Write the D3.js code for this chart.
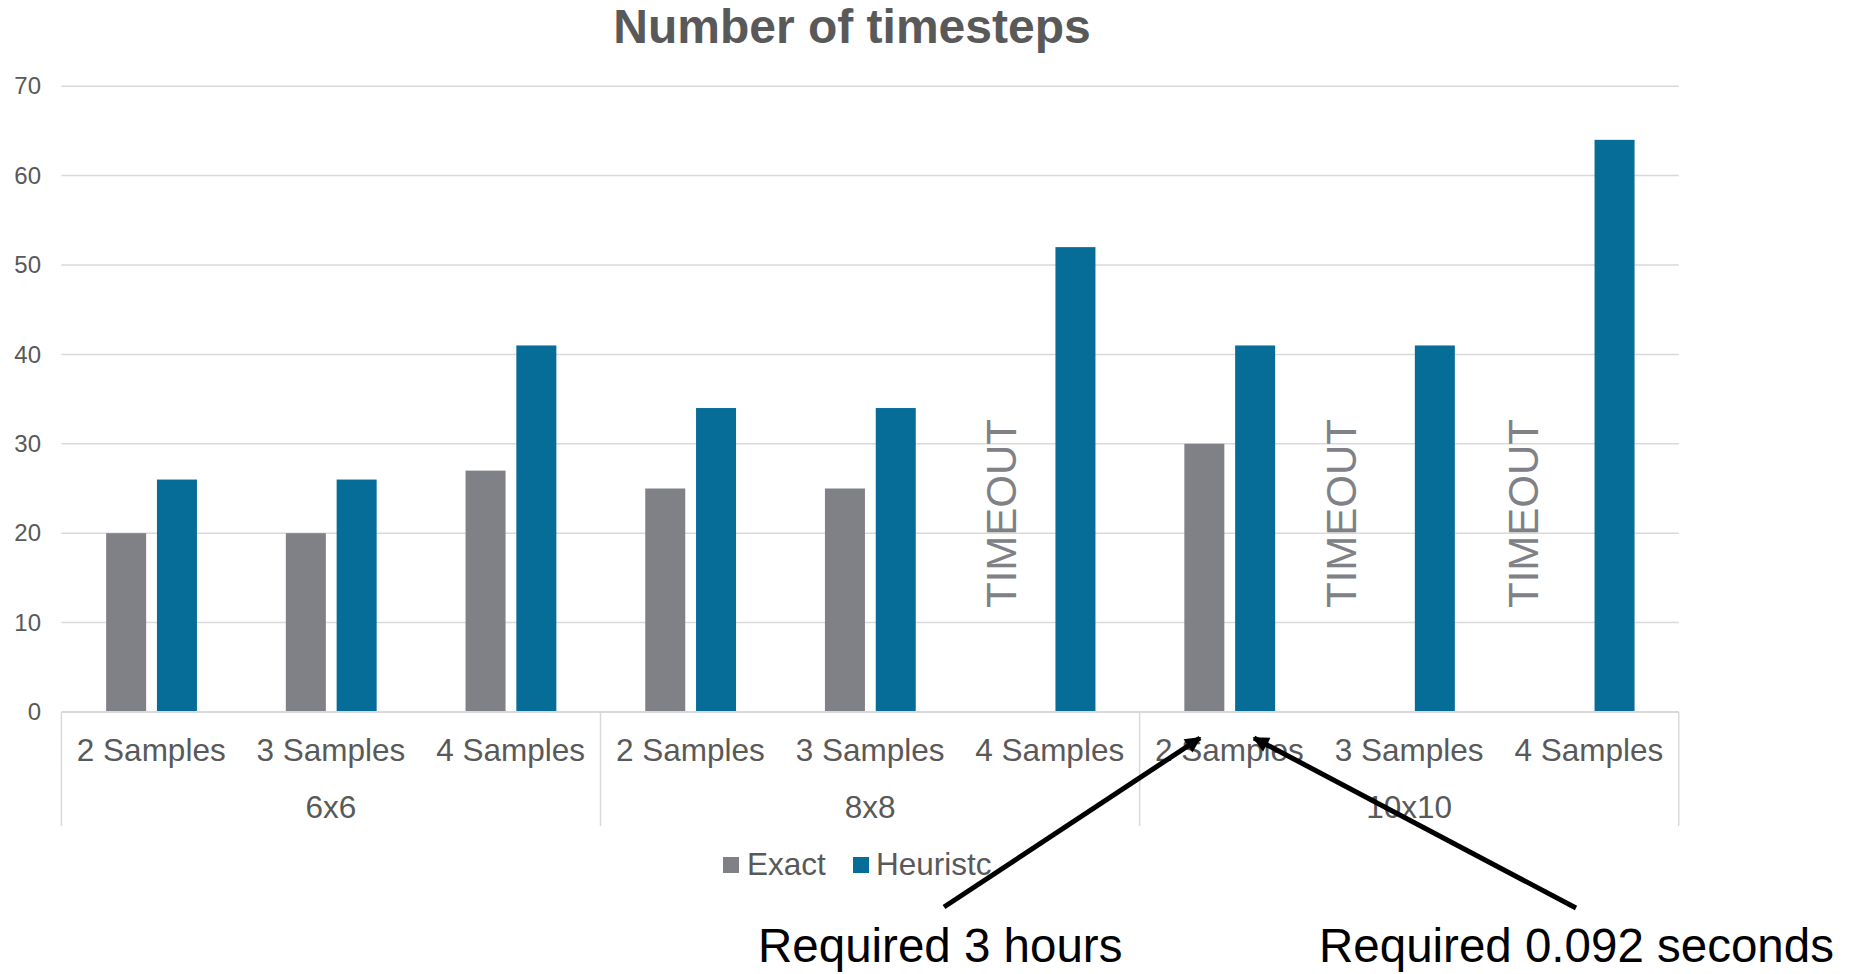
<!DOCTYPE html>
<html>
<head>
<meta charset="utf-8">
<script src="https://cdn.jsdelivr.net/npm/d3@7"></script>
<style>
  html, body { margin: 0; padding: 0; background: #fff; }
  svg { display: block; font-family: "Liberation Sans", Arial, sans-serif; }
</style>
</head>
<body>
<svg id="chart" width="1851" height="974"></svg>
<script>
// ---- data ----
const groups = ["6x6", "8x8", "10x10"];
const samples = ["2 Samples", "3 Samples", "4 Samples"];
const seriesNames = ["Exact", "Heuristc"];
const exactValues = [20, 20, 27, 25, 25, null, 30, null, null];
const heuristicValues = [26, 26, 41, 34, 34, 52, 41, 41, 64];
const yTicks = [0, 10, 20, 30, 40, 50, 60, 70];
const timeoutCategories = [5, 7, 8];
const timeoutText = "TIMEOUT";
const titleText = "Number of timesteps";
const annotationTexts = ["Required 3 hours", "Required 0.092 seconds"];

// ---- layout ----
const W = 1851, H = 974;
const plot = { left: 61.4, right: 1678.7, top: 86.2, bottom: 712 };
const colors = { Exact: "#808186", Heuristc: "#066c98" };
const textColor = "#595959";
const gridColor = "#d9d9d9";

const svg = d3.select("#chart");

const categories = [];
groups.forEach(g => samples.forEach(s => categories.push({ group: g, sample: s, key: g + "|" + s })));

const x = d3.scaleBand().domain(categories.map(d => d.key)).range([plot.left, plot.right]).padding(0);
const bw = x.bandwidth();
const inner = d3.scaleBand().domain(seriesNames)
  .range([bw * 0.249, bw * 0.249 + 90.8]).paddingInner(0.2126).paddingOuter(0);
const y = d3.scaleLinear().domain([0, 70]).range([plot.bottom, plot.top]);

// gridlines
svg.append("g").selectAll("line").data(yTicks.filter(t => t > 0)).join("line")
  .attr("x1", plot.left).attr("x2", plot.right)
  .attr("y1", d => y(d)).attr("y2", d => y(d))
  .attr("stroke", gridColor).attr("stroke-width", 1.5);

// y axis labels
const yAxis = d3.axisLeft(y).tickValues(yTicks).tickSize(0).tickPadding(0);
const yg = svg.append("g").attr("transform", `translate(41,0)`).call(yAxis);
yg.select(".domain").remove();
yg.selectAll("text").attr("fill", textColor).style("font-size", "24px")
  .style("font-family", "'Liberation Sans', Arial, sans-serif");

// bars
const barData = [];
categories.forEach((c, i) => {
  if (exactValues[i] != null) barData.push({ key: c.key, s: "Exact", v: exactValues[i] });
  if (heuristicValues[i] != null) barData.push({ key: c.key, s: "Heuristc", v: heuristicValues[i] });
});
svg.append("g").selectAll("rect").data(barData).join("rect")
  .attr("x", d => x(d.key) + inner(d.s))
  .attr("width", inner.bandwidth())
  .attr("y", d => y(d.v))
  .attr("height", d => y(0) - y(d.v))
  .attr("fill", d => colors[d.s]);

// x axis baseline
svg.append("line").attr("x1", plot.left).attr("x2", plot.right)
  .attr("y1", y(0)).attr("y2", y(0)).attr("stroke", gridColor).attr("stroke-width", 2);

// group separators
const groupBounds = groups.map((g, gi) => {
  const first = x(g + "|" + samples[0]);
  const last = x(g + "|" + samples[samples.length - 1]) + bw;
  return { g, first, last };
});
const sepXs = [groupBounds[0].first].concat(groupBounds.map(b => b.last));
svg.append("g").selectAll("line").data(sepXs).join("line")
  .attr("x1", d => d).attr("x2", d => d)
  .attr("y1", y(0)).attr("y2", 826)
  .attr("stroke", gridColor).attr("stroke-width", 1.5);

// sample labels
svg.append("g").selectAll("text").data(categories).join("text")
  .attr("x", d => x(d.key) + bw / 2).attr("y", 761)
  .attr("text-anchor", "middle").attr("fill", textColor).style("font-size", "31.5px")
  .text(d => d.sample);

// group labels
svg.append("g").selectAll("text").data(groupBounds).join("text")
  .attr("x", d => (d.first + d.last) / 2).attr("y", 818)
  .attr("text-anchor", "middle").attr("fill", textColor).style("font-size", "31.5px")
  .text(d => d.g);

// TIMEOUT labels
const timeoutOffsets = [56, 37, 38.5];
svg.append("g").selectAll("text").data(timeoutCategories).join("text")
  .attr("transform", (d, i) => `translate(${x(categories[d].key) + timeoutOffsets[i]},${608}) rotate(-90)`)
  .attr("fill", colors.Exact).style("font-size", "42px")
  .text(timeoutText);

// title
svg.append("text").attr("x", 852).attr("y", 43)
  .attr("text-anchor", "middle").attr("fill", textColor)
  .style("font-size", "48px").style("font-weight", "bold")
  .text(titleText);

// legend
const legendItems = [
  { name: seriesNames[0], sx: 723, tx: 747 },
  { name: seriesNames[1], sx: 853, tx: 876 }
];
const lg = svg.append("g");
lg.selectAll("rect").data(legendItems).join("rect")
  .attr("x", d => d.sx).attr("y", 857).attr("width", 16).attr("height", 16)
  .attr("fill", d => colors[d.name]);
lg.selectAll("text").data(legendItems).join("text")
  .attr("x", d => d.tx).attr("y", 875)
  .attr("fill", textColor).style("font-size", "31.5px")
  .text(d => d.name);

// annotation arrows
const defs = svg.append("defs");
defs.append("marker").attr("id", "arrowhead")
  .attr("viewBox", "0 0 10 10").attr("refX", 9).attr("refY", 5)
  .attr("markerWidth", 3.8).attr("markerHeight", 3.2).attr("orient", "auto")
  .attr("markerUnits", "strokeWidth")
  .append("path").attr("d", "M0,0 L10,5 L0,10 Z").attr("fill", "#000");

const arrows = [
  { x1: 944, y1: 907, x2: 1200, y2: 738 },
  { x1: 1576, y1: 908, x2: 1254, y2: 738 }
];
svg.append("g").selectAll("line").data(arrows).join("line")
  .attr("x1", d => d.x1).attr("y1", d => d.y1)
  .attr("x2", d => d.x2).attr("y2", d => d.y2)
  .attr("stroke", "#000").attr("stroke-width", 5)
  .attr("marker-end", "url(#arrowhead)");

const annPos = [{ x: 758, y: 962 }, { x: 1319, y: 962 }];
svg.append("g").selectAll("text").data(annotationTexts).join("text")
  .attr("x", (d, i) => annPos[i].x).attr("y", (d, i) => annPos[i].y)
  .attr("fill", "#000").style("font-size", "47.5px")
  .text(d => d);
</script>
</body>
</html>
